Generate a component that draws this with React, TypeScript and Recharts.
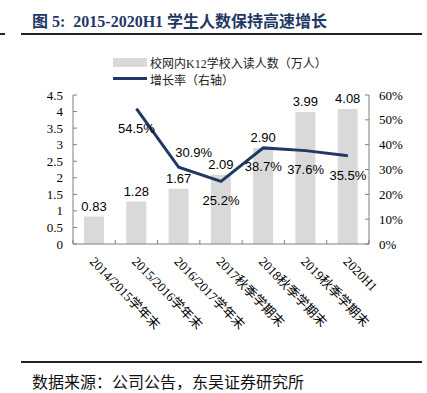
import { ComposedChart, Bar, Line, XAxis, YAxis, LabelList } from 'recharts';

const periods = [
  '2014/2015学年末',
  '2015/2016学年末',
  '2016/2017学年末',
  '2017秋季学期末',
  '2018秋季学期末',
  '2019秋季学期末',
  '2020H1',
];
const students = [0.83, 1.28, 1.67, 2.09, 2.9, 3.99, 4.08];
const growth = [null, 54.5, 30.9, 25.2, 38.7, 37.6, 35.5];
const leftTicks = [0, 0.5, 1, 1.5, 2, 2.5, 3, 3.5, 4, 4.5];
const rightTicks = [0, 10, 20, 30, 40, 50, 60];

const data = periods.map((name, i) => ({ name, students: students[i], growth: growth[i] }));

const NAVY = '#1f3864';
const BAR = '#d9d9d9';
const AXIS = '#808080';
const SERIF = "'Liberation Serif', 'Times New Roman', serif";
const SANS = "'Liberation Sans', Arial, sans-serif";
const CJK = "'Liberation Serif', 'Noto Sans CJK SC', serif";

const W = 427;
const H = 393;
const PLOT_L = 73;
const PLOT_R = 369;
const PLOT_T = 95;
const PLOT_B = 244;
const BAND = (PLOT_R - PLOT_L) / periods.length;

// label offsets for the growth line (dx, dy from the point)
const lineLabelOffset: Record<number, [number, number]> = {
  1: [0, 20],
  2: [15, -15],
  3: [0, 19],
  4: [0, 19],
  5: [0, 19],
  6: [0, 20],
};

const XTick = (props: any) => {
  const { x, y, payload, index } = props;
  const left = x - BAND / 2;
  return (
    <g>
      <line x1={left} x2={left} y1={y} y2={y - 4} stroke={AXIS} />
      {index === periods.length - 1 && (
        <line x1={x + BAND / 2} x2={x + BAND / 2} y1={y} y2={y - 4} stroke={AXIS} />
      )}
      <text
        transform={`translate(${x - 2},${y + 15}) rotate(46)`}
        textAnchor="start"
        dominantBaseline="central"
        fontFamily={CJK}
        fontSize={13}
        fill="#000"
      >
        {payload.value}
      </text>
    </g>
  );
};

const LeftTick = (props: any) => {
  const { x, y, payload } = props;
  return (
    <g>
      <line x1={x} x2={x + 4} y1={y} y2={y} stroke={AXIS} />
      <text x={x - 10} y={y} textAnchor="end" dominantBaseline="central" fontFamily={SERIF} fontSize={13} fill="#000">
        {payload.value}
      </text>
    </g>
  );
};

const RightTick = (props: any) => {
  const { x, y, payload } = props;
  return (
    <g>
      <line x1={x} x2={x - 4} y1={y} y2={y} stroke={AXIS} />
      <text x={x + 10} y={y} textAnchor="start" dominantBaseline="central" fontFamily={SERIF} fontSize={13} fill="#000">
        {payload.value}%
      </text>
    </g>
  );
};

const GrowthLabel = (props: any) => {
  const { x, y, value, index } = props;
  if (value === null || value === undefined) return null;
  const [dx, dy] = lineLabelOffset[index] || [0, 20];
  return (
    <text
      x={x + dx}
      y={y + dy}
      textAnchor="middle"
      dominantBaseline="central"
      fontFamily={SANS}
      fontSize={13}
      fill="#000"
    >
      {value.toFixed(1)}%
    </text>
  );
};

export default function App() {
  return (
    <div style={{ position: 'absolute', left: 0, top: 0, width: W, height: H, background: '#fff' }}>
      <div
        style={{
          position: 'absolute',
          left: 32,
          top: 8,
          fontFamily: CJK,
          fontWeight: 'bold',
          fontSize: 16,
          color: NAVY,
          whiteSpace: 'nowrap',
        }}
      >
        图 5:&nbsp; 2015-2020H1 学生人数保持高速增长
      </div>
      <div style={{ position: 'absolute', left: 0, top: 33, width: 5, height: 1.5, background: '#222' }} />
      <div style={{ position: 'absolute', left: 21, top: 33, width: 401, height: 1.5, background: '#222' }} />

      <div style={{ position: 'absolute', left: 113, top: 58, width: 34, height: 9, background: BAR }} />
      <div
        style={{
          position: 'absolute',
          left: 150,
          top: 54,
          fontFamily: CJK,
          fontSize: 12,
          color: '#222',
          whiteSpace: 'nowrap',
        }}
      >
        校网内K12学校入读人数（万人）
      </div>
      <div style={{ position: 'absolute', left: 113, top: 77, width: 34, height: 3, background: NAVY }} />
      <div
        style={{
          position: 'absolute',
          left: 150,
          top: 71,
          fontFamily: CJK,
          fontSize: 12,
          color: '#222',
          whiteSpace: 'nowrap',
        }}
      >
        增长率（右轴）
      </div>

      <div style={{ position: 'absolute', left: 0, top: 0 }}>
        <ComposedChart
          width={W}
          height={H}
          data={data}
          margin={{ top: PLOT_T, right: 0, left: 0, bottom: 0 }}
        >
          <XAxis
            dataKey="name"
            interval={0}
            height={H - PLOT_B}
            tickSize={0}
            tickMargin={0}
            tickLine={false}
            axisLine={{ stroke: AXIS }}
            tick={<XTick />}
          />
          <YAxis
            yAxisId="left"
            domain={[0, 4.5]}
            ticks={leftTicks}
            interval={0}
            width={PLOT_L}
            tickSize={0}
            tickMargin={0}
            tickLine={false}
            axisLine={{ stroke: AXIS }}
            tick={<LeftTick />}
          />
          <YAxis
            yAxisId="right"
            orientation="right"
            domain={[0, 60]}
            ticks={rightTicks}
            interval={0}
            width={W - PLOT_R}
            tickSize={0}
            tickMargin={0}
            tickLine={false}
            axisLine={{ stroke: AXIS }}
            tick={<RightTick />}
          />
          <Bar yAxisId="left" dataKey="students" fill={BAR} barSize={20} isAnimationActive={false}>
            <LabelList
              dataKey="students"
              position="top"
              offset={6}
              formatter={(v: any) => Number(v).toFixed(2)}
              style={{ fontFamily: SANS, fontSize: 13, fill: '#000' }}
            />
          </Bar>
          <Line
            yAxisId="right"
            dataKey="growth"
            stroke={NAVY}
            strokeWidth={3}
            dot={false}
            isAnimationActive={false}
          >
            <LabelList dataKey="growth" content={<GrowthLabel />} />
          </Line>
        </ComposedChart>
      </div>

      <div style={{ position: 'absolute', left: 21, top: 361, width: 401, height: 1.5, background: '#222' }} />
      <div
        style={{
          position: 'absolute',
          left: 32,
          top: 369,
          fontFamily: CJK,
          fontSize: 16,
          color: '#111',
          whiteSpace: 'nowrap',
        }}
      >
        数据来源：公司公告，东吴证券研究所
      </div>
    </div>
  );
}
